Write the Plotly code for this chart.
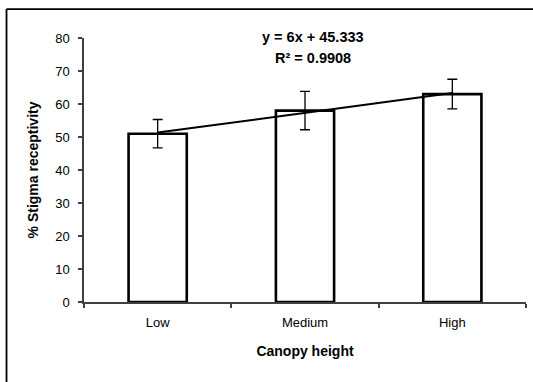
import numpy as np
import plotly.graph_objects as go

categories = ["Low", "Medium", "High"]
values = [51, 58, 63]
errors = [4.3, 5.8, 4.5]
y_ticks = [0, 10, 20, 30, 40, 50, 60, 70, 80]

# linear trendline fitted to the bar values (x = 1, 2, 3)
xs = np.arange(1, len(values) + 1)
slope, intercept = np.polyfit(xs, values, 1)
trend = slope * xs + intercept

FONT = "Liberation Sans, Arial, sans-serif"
AX = "#404040"

fig = go.Figure()
fig.add_trace(go.Bar(
    x=categories, y=values,
    marker=dict(color="white", line=dict(color="black", width=2.6)),
    error_y=dict(type="data", array=errors, color="black", thickness=1.3, width=5),
    showlegend=False, hoverinfo="skip",
))
fig.add_trace(go.Scatter(
    x=categories, y=trend, mode="lines",
    line=dict(color="black", width=2), showlegend=False, hoverinfo="skip",
))

fig.update_layout(
    width=533, height=382, autosize=False,
    margin=dict(l=84, r=7, t=38, b=80, autoexpand=False),
    paper_bgcolor="white", plot_bgcolor="white",
    bargap=0.605,
    font=dict(family=FONT, size=13, color="black"),
    xaxis=dict(
        type="category", range=[-0.5, 2.5], tickson="boundaries",
        ticks="outside", ticklen=4, tickwidth=1.5, tickcolor=AX,
        showline=True, linecolor=AX, linewidth=1.5, showgrid=False,
        ticklabelstandoff=8, tickfont=dict(size=13),
        title=dict(text="<b>Canopy height</b>", font=dict(size=14), standoff=17),
        automargin=False,
    ),
    yaxis=dict(
        range=[0, 80], tickvals=y_ticks, ticks="outside", ticklen=4,
        tickwidth=1.5, tickcolor=AX, showline=True, linecolor=AX, linewidth=1.5,
        showgrid=False, zeroline=False, ticklabelstandoff=6, tickfont=dict(size=13),
        title=dict(text="<b>% Stigma receptivity</b>", font=dict(size=14), standoff=13),
        automargin=False,
    ),
    annotations=[
        dict(xref="paper", yref="paper", x=0.518, y=1.004, yanchor="middle",
             text="<b>y = %gx + %.3f</b>" % (round(slope, 3), intercept),
             showarrow=False, font=dict(size=14.5)),
        dict(xref="paper", yref="paper", x=0.518, y=0.924, yanchor="middle",
             text="<b>R² = 0.9908</b>", showarrow=False, font=dict(size=14.5)),
    ],
    shapes=[
        dict(type="line", xref="paper", yref="paper",
             x0=-0.1753, x1=1.3, y0=1.1097, y1=1.1097,
             line=dict(color="black", width=1.8), layer="below"),
        dict(type="line", xref="paper", yref="paper",
             x0=-0.1753, x1=-0.1753, y0=-0.6, y1=1.1097,
             line=dict(color="black", width=1.8), layer="below"),
    ],
)

fig.write_html(
    "out.html",
    config=dict(responsive=False, displayModeBar=False),
    post_script=(
        "document.documentElement.style.overflow='hidden';"
        "document.documentElement.style.margin='0';"
        "document.body.style.margin='0';document.body.style.overflow='hidden';"
    ),
)
